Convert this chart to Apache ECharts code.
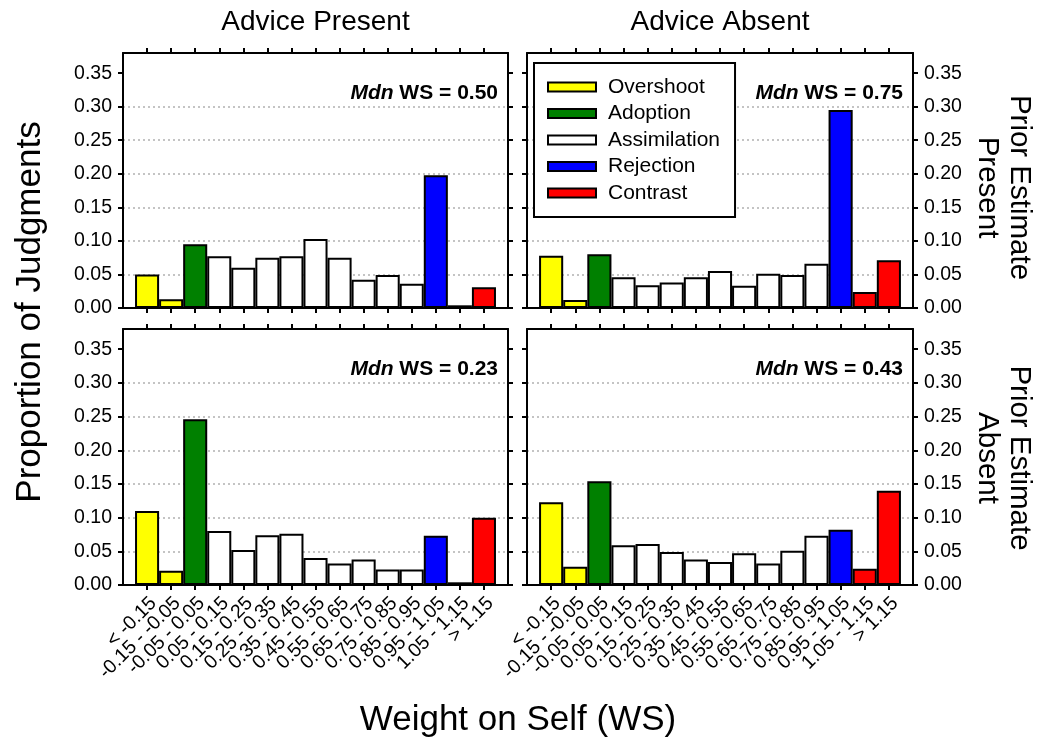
<!DOCTYPE html>
<html>
<head>
<meta charset="utf-8">
<script src="https://cdn.jsdelivr.net/npm/echarts@6/dist/echarts.min.js"></script>
<style>
  html, body { margin: 0; padding: 0; background: #ffffff; }
  #chart { width: 1039px; height: 744px; }
</style>
</head>
<body>
<div id="chart"></div>
<script>
// Weight-on-self bins (x categories)
const binLabels = [
  '< -0.15', '-0.15 - -0.05', '-0.05 - 0.05', '0.05 - 0.15', '0.15 - 0.25',
  '0.25 - 0.35', '0.35 - 0.45', '0.45 - 0.55', '0.55 - 0.65', '0.65 - 0.75',
  '0.75 - 0.85', '0.85 - 0.95', '0.95 - 1.05', '1.05 - 1.15', '> 1.15'
];

// Response types and which bin belongs to which type
const typeNames = ['Overshoot', 'Adoption', 'Assimilation', 'Rejection', 'Contrast'];
const typeColors = ['#FFFF00', '#008000', '#FFFFFF', '#0000FF', '#FF0000'];
const binType = [0, 0, 1, 2, 2, 2, 2, 2, 2, 2, 2, 2, 3, 4, 4];

// Panel headings
const adviceLevels = ['Advice Present', 'Advice Absent'];
const priorLevels = ['Prior Estimate\nPresent', 'Prior Estimate\nAbsent'];

// Proportion of judgments per bin
const adviceYesPriorYes = [0.050, 0.013, 0.095, 0.077, 0.060, 0.075, 0.077, 0.103, 0.075, 0.042, 0.049, 0.036, 0.198, 0.004, 0.031];
const adviceNoPriorYes  = [0.078, 0.012, 0.080, 0.046, 0.034, 0.038, 0.046, 0.055, 0.033, 0.051, 0.049, 0.066, 0.295, 0.024, 0.071];
const adviceYesPriorNo  = [0.110, 0.021, 0.246, 0.080, 0.052, 0.074, 0.076, 0.040, 0.032, 0.038, 0.023, 0.023, 0.073, 0.004, 0.100];
const adviceNoPriorNo   = [0.123, 0.027, 0.154, 0.059, 0.061, 0.049, 0.038, 0.034, 0.047, 0.032, 0.051, 0.073, 0.082, 0.024, 0.140];

// Median weight on self per panel
const medianWS = [0.50, 0.75, 0.23, 0.43];

// Y tick values
const yTicks = [0, 0.05, 0.10, 0.15, 0.20, 0.25, 0.30, 0.35];

// Panel order: top-left, top-right, bottom-left, bottom-right
const panelData = [adviceYesPriorYes, adviceNoPriorYes, adviceYesPriorNo, adviceNoPriorNo];
const panelRects = [
  { left: 123, top: 53,  width: 385, height: 255 },
  { left: 527, top: 53,  width: 386, height: 255 },
  { left: 123, top: 329, width: 385, height: 256 },
  { left: 527, top: 329, width: 386, height: 256 }
];

const FONT = "'Liberation Sans', Arial, Helvetica, sans-serif";
const binIdx = binLabels.map((_, i) => i);
const black = '#000000';

const grids = [];
const xAxes = [];
const yAxes = [];
const series = [];
const graphics = [];

panelRects.forEach((r, k) => {
  grids.push({
    left: r.left, top: r.top, width: r.width, height: r.height,
    containLabel: false, outerBoundsMode: 'none', show: false
  });

  const isBottomRow = k >= 2;
  const isLeftCol = k % 2 === 0;

  ['bottom', 'top'].forEach(pos => {
    xAxes.push({
      gridIndex: k, type: 'value', position: pos,
      min: -1, max: 15, interval: 1,
      axisLine: { show: true, onZero: false, lineStyle: { color: black, width: 2 } },
      axisTick: { show: true, inside: false, length: 5, customValues: binIdx,
                  lineStyle: { color: black, width: 2 } },
      axisLabel: {
        show: pos === 'bottom' && isBottomRow,
        // the padding slots at -1 and 15 carry no label
        showMinLabel: false, showMaxLabel: false, hideOverlap: false,
        formatter: v => binLabels[Math.round(v)] ?? '',
        rotate: 45, margin: 9, verticalAlign: 'top', lineHeight: 18,
        fontSize: 19.5, fontFamily: FONT, color: black
      },
      splitLine: { show: false }
    });
  });

  ['left', 'right'].forEach(pos => {
    const labelled = (pos === 'left') === isLeftCol;
    yAxes.push({
      gridIndex: k, type: 'value', position: pos,
      min: 0, max: 0.38, interval: 0.05,
      axisLine: { show: true, onZero: false, lineStyle: { color: black, width: 2 } },
      axisTick: { show: true, inside: false, length: 5, customValues: yTicks,
                  lineStyle: { color: black, width: 2 } },
      axisLabel: {
        show: labelled, customValues: yTicks,
        showMinLabel: true, showMaxLabel: true,
        formatter: v => v.toFixed(2), margin: 11,
        fontSize: 19.5, fontFamily: FONT, color: black
      },
      splitLine: {
        show: pos === 'left', showMinLine: false, showMaxLine: false,
        lineStyle: { color: '#c4c4c4', width: 2, type: [2, 3] }
      }
    });
  });

  // one bar series per response type, stacked so the bins sit side by side
  typeNames.forEach((name, t) => {
    const pts = [];
    panelData[k].forEach((v, i) => { if (binType[i] === t) pts.push([i, v]); });
    series.push({
      type: 'bar', name: name,
      xAxisIndex: 2 * k, yAxisIndex: 2 * k,
      stack: 'panel' + k,
      barCategoryGap: '0%', barWidth: '100%',
      itemStyle: { color: typeColors[t], borderColor: black, borderWidth: 2 },
      emphasis: { disabled: true },
      data: pts
    });
  });

  // median annotation
  graphics.push({
    type: 'text', x: r.left + r.width - 10, y: r.top + 40, z: 50,
    style: {
      text: '{i|Mdn} WS = ' + medianWS[k].toFixed(2),
      fill: black, fontSize: 21, fontWeight: 'bold', fontFamily: FONT,
      align: 'right', verticalAlign: 'middle',
      rich: { i: { fontStyle: 'italic', fontWeight: 'bold', fontSize: 21, fontFamily: FONT, fill: black } }
    }
  });
});

// column headings
adviceLevels.forEach((txt, c) => {
  const r = panelRects[c];
  graphics.push({
    type: 'text', x: r.left + r.width / 2, y: 22,
    style: { text: txt, fill: black, fontSize: 28, fontFamily: FONT, align: 'center', verticalAlign: 'middle' }
  });
});

// row headings (rotated, reading top to bottom)
priorLevels.forEach((txt, rIdx) => {
  const r = panelRects[rIdx * 2 + 1];
  graphics.push({
    type: 'text', x: 1003, y: r.top + r.height / 2 + (rIdx === 0 ? 7 : 1), rotation: -Math.PI / 2,
    style: { text: txt, fill: black, fontSize: 29.5, lineHeight: 32, fontFamily: FONT, align: 'center', verticalAlign: 'middle' }
  });
});

// axis titles
graphics.push({
  type: 'text', x: 30, y: 312, rotation: Math.PI / 2,
  style: { text: 'Proportion of Judgments', fill: black, fontSize: 35, fontFamily: FONT, align: 'center', verticalAlign: 'middle' }
});
graphics.push({
  type: 'text', x: 518, y: 720,
  style: { text: 'Weight on Self (WS)', fill: black, fontSize: 35, fontFamily: FONT, align: 'center', verticalAlign: 'middle' }
});

const chart = echarts.init(document.getElementById('chart'), null, { renderer: 'canvas' });
chart.setOption({
  animation: false,
  backgroundColor: '#ffffff',
  grid: grids,
  xAxis: xAxes,
  yAxis: yAxes,
  series: series,
  legend: {
    show: true, data: typeNames, selectedMode: false,
    orient: 'vertical', left: 534, top: 63,
    padding: [13, 15, 13, 13], itemGap: 4.5,
    itemWidth: 48, itemHeight: 9, icon: 'rect',
    backgroundColor: '#ffffff', borderColor: black, borderWidth: 2,
    itemStyle: { borderColor: black, borderWidth: 2 },
    textStyle: { fontSize: 21, color: black, fontFamily: FONT, lineHeight: 22, padding: [0, 0, 0, 7] },
    z: 20
  },
  graphic: graphics
});
</script>
</body>
</html>
